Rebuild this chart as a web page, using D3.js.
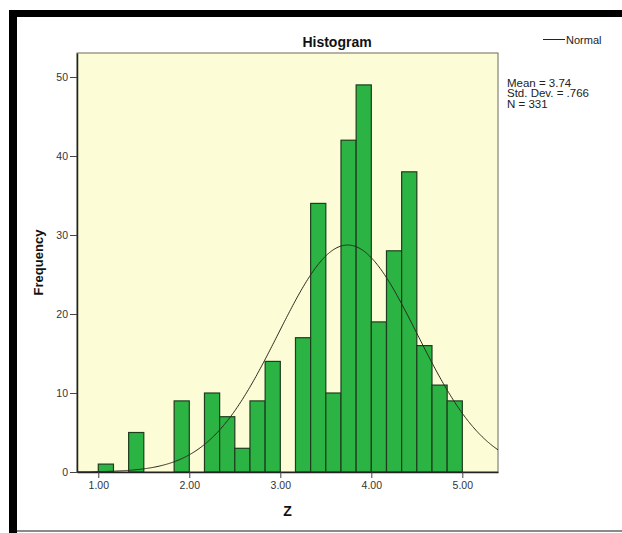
<!DOCTYPE html>
<html>
<head>
<meta charset="utf-8">
<script src="https://cdn.jsdelivr.net/npm/d3@7"></script>
<style>
  html, body { margin: 0; padding: 0; background: #fff; }
  svg { display: block; }
  text { font-family: "Liberation Sans Narrow", "Liberation Sans", Arial, sans-serif; }
</style>
</head>
<body>
<svg id="chart" width="622" height="533"></svg>
<script>
// ---- data ----
const binStarts = [1.00, 1.1667, 1.3333, 1.50, 1.6667, 1.8333, 2.00, 2.1667, 2.3333, 2.50, 2.6667, 2.8333, 3.00, 3.1667, 3.3333, 3.50, 3.6667, 3.8333, 4.00, 4.1667, 4.3333, 4.50, 4.6667, 4.8333];
const frequencies = [1, 0, 5, 0, 0, 9, 0, 10, 7, 3, 9, 14, 0, 17, 34, 10, 42, 49, 19, 28, 38, 16, 11, 9];
const binWidth = 1 / 6;
const xTicks = [1, 2, 3, 4, 5];
const yTicks = [0, 10, 20, 30, 40, 50];
const statLines = ["Mean = 3.74", "Std. Dev. = .766", "N = 331"];
const fitMean = 3.74, fitSd = 0.766, fitN = 331;

const svg = d3.select("#chart");

// frame decorations
svg.append("rect").attr("x", 9).attr("y", 10).attr("width", 613).attr("height", 7).attr("fill", "#000");
svg.append("rect").attr("x", 9).attr("y", 10).attr("width", 8).attr("height", 523).attr("fill", "#000");
svg.append("rect").attr("x", 17).attr("y", 530).attr("width", 605).attr("height", 2).attr("fill", "#8a8a8a");

const L = 77, R = 498, T = 53, B = 472;
const x = d3.scaleLinear().domain([0.766, 5.392]).range([L, R]);
const y = d3.scaleLinear().domain([0, 53.04]).range([B, T]);

// plot background
svg.append("rect").attr("x", L).attr("y", T).attr("width", R - L).attr("height", B - T)
  .attr("fill", "#fcfcd6").attr("stroke", "#6b6b5a").attr("stroke-width", 1);

// bars
svg.append("g").selectAll("rect").data(binStarts.map((s, i) => ({ s, f: frequencies[i] })).filter(d => d.f > 0))
  .join("rect")
  .attr("x", d => x(d.s))
  .attr("y", d => y(d.f))
  .attr("width", d => x(d.s + binWidth) - x(d.s))
  .attr("height", d => y(0) - y(d.f))
  .attr("fill", "#2bb343")
  .attr("stroke", "#1e3d1e")
  .attr("stroke-width", 1.2);

// normal curve
const pts = d3.range(0, 401).map(i => {
  const xv = 0.766 + (5.392 - 0.766) * i / 400;
  const z = (xv - fitMean) / fitSd;
  return [xv, fitN * binWidth * Math.exp(-0.5 * z * z) / (fitSd * Math.sqrt(2 * Math.PI))];
});
svg.append("clipPath").attr("id", "clip").append("rect").attr("x", L).attr("y", T).attr("width", R - L).attr("height", B - T);
svg.append("path").datum(pts)
  .attr("clip-path", "url(#clip)")
  .attr("d", d3.line().x(d => x(d[0])).y(d => y(d[1])))
  .attr("fill", "none").attr("stroke", "#2b2b20").attr("stroke-width", 1);

// axes
const xAxis = svg.append("g").attr("transform", `translate(0,${B})`)
  .call(d3.axisBottom(x).tickValues(xTicks).tickFormat(d3.format(".2f")).tickSize(6).tickPadding(4).tickSizeOuter(0));
const yAxis = svg.append("g").attr("transform", `translate(${L},0)`)
  .call(d3.axisLeft(y).tickValues(yTicks).tickFormat(d3.format("d")).tickSize(7).tickPadding(2).tickSizeOuter(0));
[xAxis, yAxis].forEach(a => {
  a.select(".domain").attr("stroke", "#222").attr("stroke-width", 1.5);
  a.selectAll(".tick line").attr("stroke", "#444");
  a.selectAll(".tick text").attr("fill", "#333").style("font-size", "10.5px")
    .style("font-family", '"Liberation Sans Narrow", "Liberation Sans", Arial, sans-serif');
});

// titles
svg.append("text").attr("x", 337).attr("y", 47).attr("text-anchor", "middle")
  .style("font-family", '"Liberation Sans", Arial, sans-serif')
  .style("font-weight", "bold").style("font-size", "14px").attr("fill", "#111").text("Histogram");
svg.append("text").attr("transform", `translate(43,${(T + B) / 2}) rotate(-90)`).attr("text-anchor", "middle")
  .style("font-family", '"Liberation Sans", Arial, sans-serif')
  .style("font-weight", "bold").style("font-size", "13px").attr("fill", "#111").text("Frequency");
svg.append("text").attr("x", (L + R) / 2).attr("y", 516).attr("text-anchor", "middle")
  .style("font-family", '"Liberation Sans", Arial, sans-serif')
  .style("font-weight", "bold").style("font-size", "14px").attr("fill", "#111").text("Z");

// legend
svg.append("line").attr("x1", 543).attr("x2", 565).attr("y1", 39.5).attr("y2", 39.5).attr("stroke", "#222").attr("stroke-width", 1);
svg.append("text").attr("x", 566).attr("y", 43.5).style("font-size", "11px").attr("fill", "#222").text("Normal");

// stats
svg.append("g").selectAll("text").data(statLines).join("text")
  .attr("x", 507).attr("y", (d, i) => 86.5 + i * 10.5)
  .style("font-size", "11.5px").attr("fill", "#222").text(d => d);
</script>
</body>
</html>
